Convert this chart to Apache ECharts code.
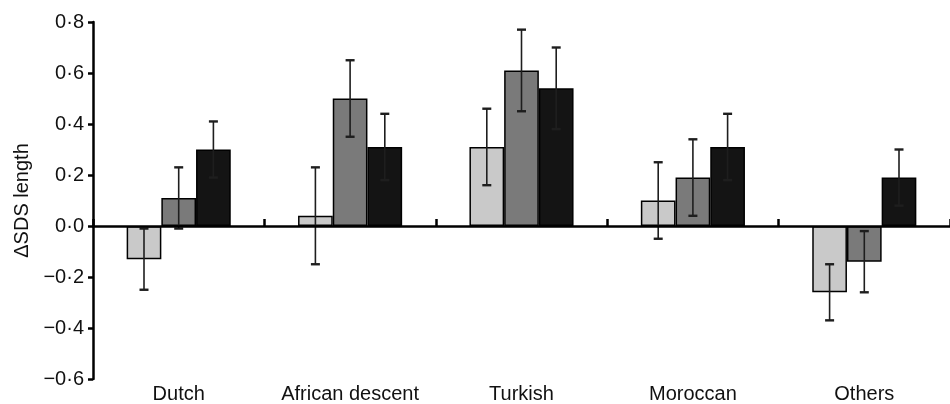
<!DOCTYPE html>
<html>
<head>
<meta charset="utf-8">
<script src="https://cdn.jsdelivr.net/npm/echarts@6/dist/echarts.min.js"></script>
<style>html,body{margin:0;padding:0;background:#fff;}#c{width:950px;height:404px;}</style>
</head>
<body>
<div id="c"></div>
<script>
const categories = ['Dutch', 'African descent', 'Turkish', 'Moroccan', 'Others'];
const yTicks = [-0.6, -0.4, -0.2, 0, 0.2, 0.4, 0.6, 0.8];

const groupA = [-0.13, 0.04, 0.31, 0.10, -0.26];
const lowA   = [-0.25, -0.15, 0.16, -0.05, -0.37];
const highA  = [-0.01, 0.23, 0.46, 0.25, -0.15];

const groupB = [0.11, 0.50, 0.61, 0.19, -0.14];
const lowB   = [-0.01, 0.35, 0.45, 0.04, -0.26];
const highB  = [0.23, 0.65, 0.77, 0.34, -0.02];

const groupC = [0.30, 0.31, 0.54, 0.31, 0.19];
const lowC   = [0.19, 0.18, 0.38, 0.18, 0.08];
const highC  = [0.41, 0.44, 0.70, 0.44, 0.30];

const colors = ['#c9c9c9', '#7a7a7a', '#141414'];
const BAR_W = 34.7;
const FONT = "'Liberation Sans', Arial, Helvetica, sans-serif";

function fmt(v) {
  const s = Math.abs(v).toFixed(1).replace('.', '\u00B7');
  return (v < -1e-9 ? '\u2212' : '') + s;
}

const groups = [
  {vals: groupA, lo: lowA, hi: highA},
  {vals: groupB, lo: lowB, hi: highB},
  {vals: groupC, lo: lowC, hi: highC}
];

const series = [];
groups.forEach((g, k) => {
  series.push({
    type: 'bar',
    xAxisIndex: 0,
    data: g.vals,
    barWidth: BAR_W,
    barGap: '0%',
    itemStyle: {color: colors[k], borderColor: '#000', borderWidth: 1.5},
    z: 2,
    silent: true
  });
});
groups.forEach((g, k) => {
  series.push({
    type: 'custom',
    xAxisIndex: 0,
    z: 5,
    silent: true,
    data: categories.map((c, i) => [i, g.lo[i], g.hi[i]]),
    renderItem: function (params, api) {
      const i = api.value(0);
      const pLo = api.coord([i, api.value(1)]);
      const pHi = api.coord([i, api.value(2)]);
      const x = pLo[0] + (k - 1) * BAR_W;
      const cap = 4.5;
      const st = {stroke: '#1e1e1e', lineWidth: 1.6};
      return {
        type: 'group',
        children: [
          {type: 'line', shape: {x1: x, y1: pLo[1], x2: x, y2: pHi[1]}, style: st},
          {type: 'line', shape: {x1: x - cap, y1: pLo[1], x2: x + cap, y2: pLo[1]}, style: {stroke: '#1e1e1e', lineWidth: 2.4}},
          {type: 'line', shape: {x1: x - cap, y1: pHi[1], x2: x + cap, y2: pHi[1]}, style: {stroke: '#1e1e1e', lineWidth: 2.4}}
        ]
      };
    }
  });
});

const chart = echarts.init(document.getElementById('c'), null, {renderer: 'canvas'});
chart.setOption({
  animation: false,
  backgroundColor: '#fff',
  grid: {left: 93, top: 22, width: 866, height: 358, containLabel: false},
  xAxis: [
    {
      type: 'category',
      data: categories,
      position: 'bottom',
      axisLine: {onZero: true, lineStyle: {color: '#000', width: 2.5}},
      axisTick: {show: true, inside: true, length: 7, lineStyle: {color: '#000', width: 2.5}},
      axisLabel: {show: false},
      splitLine: {show: false},
      z: 10
    },
    {
      type: 'category',
      data: categories,
      position: 'bottom',
      axisLine: {show: false, onZero: false},
      axisTick: {show: false},
      axisLabel: {show: true, interval: 0, hideOverlap: false, margin: 5, color: '#111', fontSize: 20, fontFamily: FONT},
      splitLine: {show: false}
    }
  ],
  yAxis: {
    type: 'value',
    min: yTicks[0],
    max: yTicks[yTicks.length - 1],
    interval: 0.2,
    name: 'ΔSDS length',
    nameLocation: 'middle',
    nameGap: 57,
    nameTextStyle: {color: '#111', fontSize: 20, fontFamily: FONT},
    axisLine: {show: true, onZero: false, lineStyle: {color: '#000', width: 2.5}},
    axisTick: {show: true, length: 5, lineStyle: {color: '#000', width: 2.5}},
    axisLabel: {margin: 9, color: '#111', fontSize: 20, fontFamily: FONT, formatter: fmt},
    splitLine: {show: false}
  },
  series: series
});
</script>
</body>
</html>
